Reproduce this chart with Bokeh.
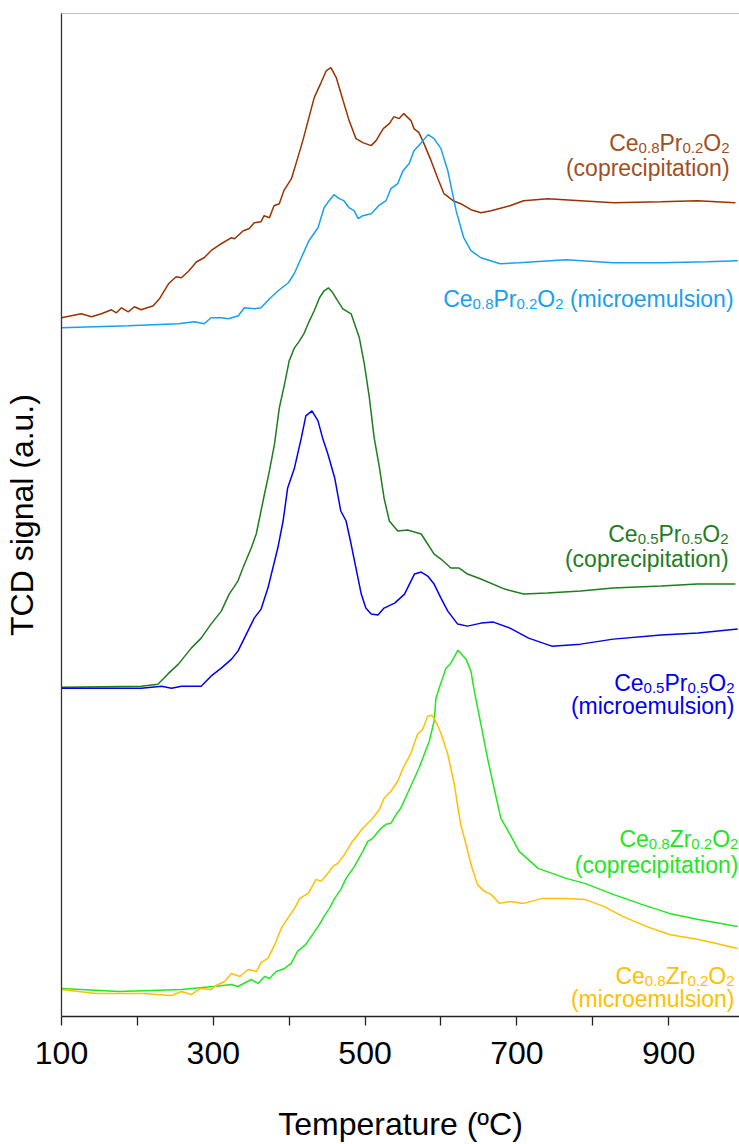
from bokeh.plotting import figure
from bokeh.models import Range1d, FixedTicker, Span, ColumnDataSource
from bokeh.embed import file_html
from bokeh.resources import INLINE
from bokeh.core.properties import value

# ---------------- data (temperature in ºC, TCD signal in a.u.) ----------------
ce8pr2_cop_T = [100, 113, 126, 139.5, 152.6, 165.8, 172.4, 179, 188, 196, 205, 221, 229, 241, 251, 258, 268,
                278, 288, 297, 310.5, 324, 328, 339.5, 347, 354, 363, 367, 374, 380, 387, 393, 403, 409,
                418, 426, 433, 442, 449, 455, 462, 471, 479, 488, 497, 508, 514.5, 524, 532, 538, 545, 551,
                560.5, 564.5, 571, 577.6, 587, 596, 604, 616, 626, 639.5, 652.6, 666, 691, 709, 741, 784,
                828, 890, 938, 988]
ce8pr2_cop_S = [698, 700, 702, 699, 702, 706, 703, 708, 704, 709, 706, 710, 717, 732, 739, 738, 745,
                754, 758, 765, 772, 778, 777, 785, 787, 793, 794, 800, 798, 810, 812, 825, 837, 852,
                875, 898, 918, 933, 945, 948, 938, 915, 895, 877, 873, 870, 875, 887, 892, 899, 897, 902,
                895, 887, 883, 872, 855, 837, 822, 815, 812, 806, 803, 805, 810, 815, 817, 815,
                813, 814, 815, 813]

ce8pr2_mic_T = [100, 188, 254, 275, 288, 297, 310.5, 320, 333, 341, 354, 363, 374, 385.5, 399, 406.6, 416,
                426, 438, 446, 452.6, 459, 466, 472, 479, 485.5, 491, 497, 508, 518, 527.6, 534, 543, 550,
                558, 564.5, 574, 583, 591, 600, 609, 620, 630, 639.5, 652.6, 678, 703, 765, 827, 890,
                951, 991]
ce8pr2_mic_S = [688, 690, 692, 694, 692, 698, 698, 697, 700, 708, 707, 708, 717, 725, 733, 742, 758,
                775, 788, 808, 815, 821, 817, 815, 808, 805, 797, 800, 802, 810, 815, 827, 832, 845,
                852, 865, 873, 881, 877, 867, 845, 805, 778, 765, 758, 752, 753, 756, 753, 753,
                754, 755]

ce5pr5_cop_T = [100, 205, 227, 240, 254, 271, 284, 297, 310.5, 321, 332.5, 339, 350, 356.6, 361, 367.5, 374,
                380.7, 387, 394, 400, 407, 413.6, 420, 426.7, 433, 440, 446, 451.7, 457.5, 464, 470.7,
                481.6, 492.5, 499, 505.7, 512, 519, 525, 532, 543, 556, 574, 582.5, 591, 600, 613, 624,
                635, 652.6, 684, 709, 740, 784, 827, 890, 938, 988]
ce5pr5_cop_S = [329, 330, 332, 342, 352, 368, 378, 392, 405, 422, 435, 448, 468, 482, 498, 522, 545,
                572, 608, 632, 655, 668, 675, 683, 695, 705, 718, 725, 728, 723, 715, 707,
                702, 678, 652, 618, 578, 548, 518, 495, 485, 486, 482, 472, 462, 457, 448, 448,
                442, 437, 427, 422, 423, 425, 428, 430, 432, 432]

ce5pr5_mic_T = [100, 205, 232, 245, 258, 284, 297, 310.5, 324, 332.5, 341, 354, 363, 372, 385, 392, 398,
                407, 416, 422, 430, 438, 444, 451, 460, 468, 475, 481.6, 488, 495, 501, 508, 517, 525,
                539, 552, 565, 574, 582.5, 591, 600, 609, 622, 635, 653, 669, 691, 715.5, 746, 784, 827,
                890, 939, 991]
ce5pr5_mic_S = [328, 328, 330, 328, 330, 330, 340, 348, 357, 365, 378, 398, 407, 428, 468, 495, 528,
                548, 578, 600, 605, 595, 578, 562, 538, 505, 495, 472, 448, 422, 408, 402, 401, 408,
                413, 422, 442, 444, 440, 432, 418, 405, 392, 390, 393, 394, 388, 378, 370, 372, 377,
                381, 383, 387]

ce8zr2_cop_T = [100, 176, 258, 300, 324, 332.5, 350, 359, 367.5, 374, 383, 394, 402.6, 411, 422, 431, 440,
                446, 453, 460, 468, 475, 486, 497, 503.6, 510, 521, 527.6, 534, 541, 547, 556, 565, 571,
                578, 584.6, 591, 593.4, 597.6, 606.6, 613, 622.4, 633, 639.5, 644, 652.6, 661.4, 670,
                679, 691, 703, 728, 765, 789.5, 827, 864.5, 901, 939, 991]
ce8zr2_cop_S = [28, 25, 27, 30, 32, 30, 37, 33, 40, 38, 45, 48, 53, 65, 72, 82, 92,
                100, 108, 118, 127, 138, 150, 165, 175, 178, 188, 192, 193, 202, 208, 223, 238, 248,
                262, 275, 295, 318, 328, 348, 353, 366, 357, 345, 325, 292, 258, 228,
                198, 182, 165, 148, 138, 133, 122, 112, 103, 97, 90]

ce8zr2_mic_T = [100, 145, 207, 245, 258, 271, 284, 297, 306, 315, 324, 335, 346, 357, 363, 372, 381, 389.5,
                398, 407, 414, 425, 435.5, 442, 451, 457.5, 464, 473, 481.6, 497, 510, 519, 525, 534, 543,
                550, 560.5, 569, 576, 582.5, 588, 593, 600, 609, 617.5, 626, 633, 639.5, 648, 657, 666,
                677, 691, 709, 734, 765, 789.5, 814.5, 839.5, 870.5, 901, 939, 963, 991]
ce8zr2_mic_S = [27, 23, 23, 21, 25, 22, 28, 27, 32, 35, 43, 40, 47, 45, 54, 58, 72, 88,
                98, 108, 118, 123, 137, 135, 143, 150, 153, 162, 173, 188, 198, 207, 218, 225, 235,
                248, 263, 282, 287, 300, 301, 295, 283, 262, 232, 192, 172, 152, 132, 125, 122,
                113, 115, 113, 118, 118, 117, 110, 100, 90, 82, 77, 73, 68]

x_ticks = [100, 300, 500, 700, 900]
x_minor_ticks = [200, 400, 600, 800]

# ---------------- styling ----------------
FONT = "Liberation Sans"
C_BROWN, C_BROWN_T = "#993300", "#a0501e"
C_SKY = "#18a0f0"
C_DGREEN = "#1e7d1e"
C_BLUE = "#0000ee"
C_LIME = "#22e622"
C_GOLD = "#ffc000"

p = figure(width=739, height=1144, output_backend="svg", toolbar_location=None,
           x_range=Range1d(100, 993.4), y_range=Range1d(0, 1002),
           min_border_left=60, min_border_right=0, min_border_top=13, min_border_bottom=0)
p.outline_line_color = None
p.xgrid.visible = False
p.ygrid.visible = False
p.background_fill_color = "white"
p.border_fill_color = "white"

xa = p.xaxis[0]
xa.ticker = FixedTicker(ticks=x_ticks, minor_ticks=x_minor_ticks)
xa.axis_line_color = "#222222"
xa.axis_line_width = 1.6
xa.major_tick_line_color = "#222222"
xa.minor_tick_line_color = "#222222"
xa.major_tick_line_width = 1.3
xa.minor_tick_line_width = 1.3
xa.major_tick_out = 9
xa.major_tick_in = 0
xa.minor_tick_out = 9
xa.minor_tick_in = 0
xa.major_label_text_font = FONT
xa.major_label_text_font_size = "32px"
xa.major_label_text_color = "black"
xa.major_label_standoff = 16
xa.axis_label = "Temperature (ºC)"
xa.axis_label_text_font = FONT
xa.axis_label_text_font_size = "32px"
xa.axis_label_text_font_style = "normal"
xa.axis_label_text_color = "black"
xa.axis_label_standoff = 39

ya = p.yaxis[0]
ya.ticker = FixedTicker(ticks=[])
ya.axis_line_color = "#333333"
ya.axis_line_width = 1.3
ya.major_tick_out = 0
ya.major_tick_in = 0
ya.minor_tick_out = 0
ya.minor_tick_in = 0
ya.major_label_standoff = 0
ya.axis_label = "TCD signal (a.u.)"
ya.axis_label_text_font = FONT
ya.axis_label_text_font_size = "32px"
ya.axis_label_text_font_style = "normal"
ya.axis_label_text_color = "black"
ya.axis_label_standoff = 22

p.add_layout(Span(location=1002, dimension="width", line_color="#808080", line_width=1.2))

LW = 1.5
p.line(ce8pr2_cop_T, ce8pr2_cop_S, line_color=C_BROWN, line_width=LW)
p.line(ce8pr2_mic_T, ce8pr2_mic_S, line_color=C_SKY, line_width=LW)
p.line(ce5pr5_cop_T, ce5pr5_cop_S, line_color=C_DGREEN, line_width=LW)
p.line(ce5pr5_mic_T, ce5pr5_mic_S, line_color=C_BLUE, line_width=LW)
p.line(ce8zr2_cop_T, ce8zr2_cop_S, line_color=C_LIME, line_width=LW)
p.line(ce8zr2_mic_T, ce8zr2_mic_S, line_color=C_GOLD, line_width=LW)

# ---------------- labels with subscripts ----------------
ADV = {'C': 722, 'e': 556, 'P': 667, 'r': 333, 'Z': 611, 'O': 778, '0': 556, '.': 278, '2': 556,
       '5': 556, '8': 556, ' ': 278, '(': 333, ')': 333, 'm': 833, 'i': 222, 'c': 500, 'o': 556,
       'u': 556, 'l': 222, 's': 500, 'n': 556, 'p': 556, 't': 278, 'a': 556}
F_MAIN, F_SUB, SUB_DROP = 23, 15, 5


def tw(s, size):
    return sum(ADV[ch] for ch in s) * size / 1000.0


def add_formula(x, y, pieces, color):
    total = sum(tw(t, F_SUB if sub else F_MAIN) for t, sub in pieces)
    xs, ys, txt, xo, yo, fs = [], [], [], [], [], []
    cur = -total
    for t, sub in pieces:
        size = F_SUB if sub else F_MAIN
        lead = len(t) - len(t.lstrip(" "))
        shown = t.lstrip(" ")
        xs.append(x)
        ys.append(y)
        txt.append(shown)
        xo.append(cur + tw(" " * lead, size))
        yo.append(SUB_DROP if sub else 0)
        fs.append(f"{size}px")
        cur += tw(t, size)
    src = ColumnDataSource(dict(x=xs, y=ys, text=txt, xo=xo, yo=yo, fs=fs))
    p.text(x="x", y="y", text="text", x_offset="xo", y_offset="yo", text_font_size="fs",
           source=src, text_font=value(FONT), text_color=color, text_align="left",
           text_baseline="alphabetic")


def add_line2(x, y, t, color):
    p.text(x=[x], y=[y], text=[t], text_font=value(FONT), text_font_size=f"{F_MAIN}px",
           text_color=color, text_align="right", text_baseline="alphabetic")


def pieces(m, sub1, sub2, tail=""):
    out = [("Ce", False), (sub1, True), (m, False), (sub2, True), ("O", False), ("2", True)]
    if tail:
        out.append((tail, False))
    return out


add_formula(980.3, 873, pieces("Pr", "0.8", "0.2"), C_BROWN_T)
add_line2(980.3, 848, "(coprecipitation)", C_BROWN_T)

add_formula(985.5, 717, pieces("Pr", "0.8", "0.2", " (microemulsion)"), C_SKY)

add_formula(979.0, 482, pieces("Pr", "0.5", "0.5"), C_DGREEN)
add_line2(979.0, 457, "(coprecipitation)", C_DGREEN)

add_formula(986.8, 333, pieces("Pr", "0.5", "0.5"), C_BLUE)
add_line2(986.8, 310, "(microemulsion)", C_BLUE)

add_formula(992.0, 177, pieces("Zr", "0.8", "0.2"), C_LIME)
add_line2(992.0, 151, "(coprecipitation)", C_LIME)

add_formula(986.8, 40, pieces("Zr", "0.8", "0.2"), C_GOLD)
add_line2(986.8, 17, "(microemulsion)", C_GOLD)

open("out.html", "w").write(file_html(p, INLINE))
